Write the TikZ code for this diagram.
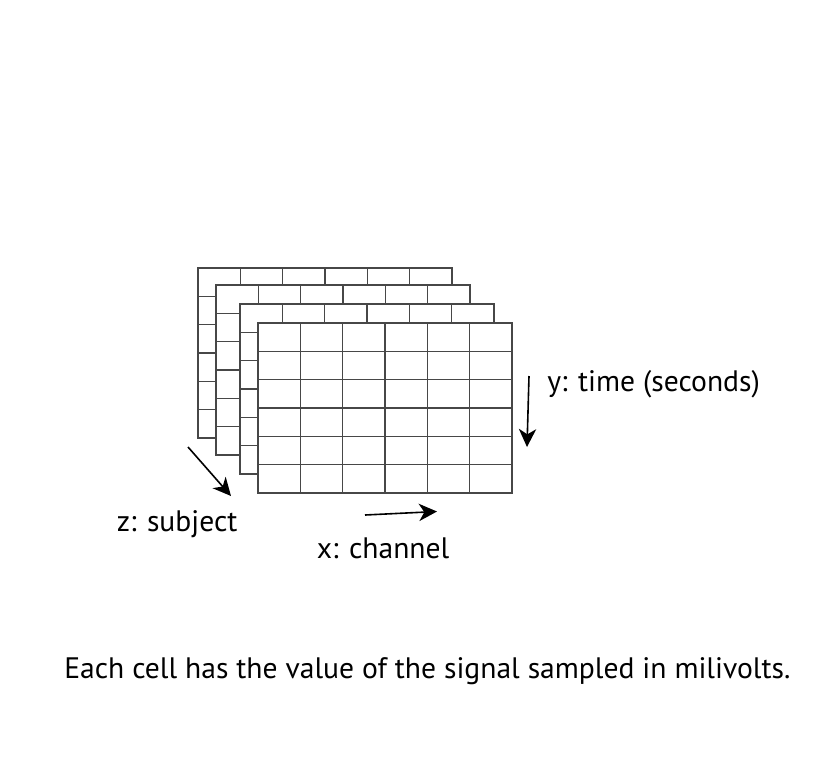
\documentclass[tikz,border=0pt]{standalone}
\usepackage{fontspec}
\setmainfont{PT Sans}
\usetikzlibrary{arrows.meta}
\tikzset{
  gridline/.style={draw=black!72, line width=0.85pt},
  axisarrow/.style={line width=1.2pt, -{Stealth[length=13.5pt,width=13pt,inset=4pt]}},
  lbl/.style={font=\fontsize{22.2}{27}\selectfont, anchor=base west, inner sep=0pt}
}
\newcommand{\cellgrid}[2]{%
  \begin{scope}[shift={(#1,#2)}]
    \fill[white] (0,0) rectangle (254,170);
    \foreach \i in {1,...,5} {\draw[gridline] ({\i*254/6},0) -- ({\i*254/6},170);}
    \foreach \j in {1,...,5} {\draw[gridline] (0,{\j*170/6}) -- (254,{\j*170/6});}
    \draw[gridline] (0,0) rectangle (254,170);
  \end{scope}}
\begin{document}
\begin{tikzpicture}[x=0.75pt,y=-0.75pt]
\useasboundingbox (0,0) rectangle (827,768);
\cellgrid{198}{268}
\cellgrid{216}{285}
\cellgrid{240}{304}
\cellgrid{258}{323}
\coordinate (zs) at (188,447);
\coordinate (ze) at (231,496);
\coordinate (ys) at (529,376);
\coordinate (ye) at (527,447);
\coordinate (xs) at (365,515);
\coordinate (xe) at (437,511.5);
\draw[axisarrow] (zs) -- (ze);
\draw[axisarrow] (ys) -- (ye);
\draw[axisarrow] (xs) -- (xe);
\node[lbl] (ylab) at (547,391.5) {y: time (seconds)};
\node[lbl] (zlab) at (116.5,531.5) {z: subject};
\node[lbl] (xlab) at (316.5,558) {x: channel};
\node[lbl] (cap) at (64,678.5) {Each cell has the value of the signal sampled in milivolts.};
\end{tikzpicture}
\end{document}
